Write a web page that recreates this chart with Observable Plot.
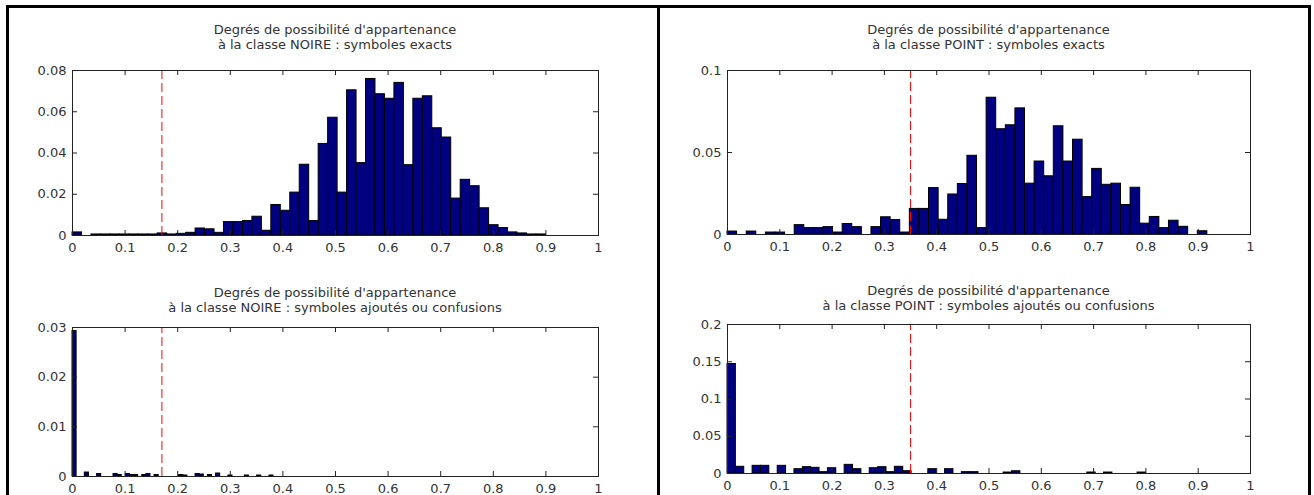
<!DOCTYPE html>
<html>
<head>
<meta charset="utf-8">
<script src="https://cdn.jsdelivr.net/npm/d3@7"></script>
<script src="https://cdn.jsdelivr.net/npm/@observablehq/plot@0.6"></script>
<style>
  html, body { margin: 0; padding: 0; background: #fff; }
  body { width: 1314px; height: 495px; overflow: hidden; position: relative; font-family: "DejaVu Sans", sans-serif; }
  #frame { position: absolute; left: 6px; top: 5px; width: 1299px; height: 600px; border: 3px solid #000; }
  #divider { position: absolute; left: 657px; top: 5px; width: 3px; height: 600px; background: #000; }
  .panel { position: absolute; }
  .title { position: absolute; text-align: center; font-size: 13px; line-height: 15px; color: #333; white-space: pre; }
</style>
</head>
<body>
<div id="frame"></div>
<div id="divider"></div>
<div id="root"></div>
<script>
// ---- Data (histogram bin heights; 50 bins each) ----
const noireExacts = [
  0.0015, 0, 0.0005, 0.0005, 0.0005, 0.0005, 0.0005, 0.0005, 0.0005, 0.001,
  0.0005, 0.0008, 0.0013, 0.0034, 0.003, 0.0013, 0.0065, 0.0065, 0.007, 0.0091,
  0.0023, 0.0148, 0.012, 0.0208, 0.0343, 0.007, 0.0444, 0.0571, 0.0208, 0.0704,
  0.0351, 0.0759, 0.0685, 0.0663, 0.074, 0.0341, 0.0663, 0.0675, 0.052, 0.0475,
  0.0179, 0.027, 0.0239, 0.0132, 0.005, 0.0036, 0.0015, 0.001, 0.0005, 0.0005
];
const pointExacts = [
  0.0018, 0, 0.0018, 0, 0.0012, 0.0012, 0, 0.0057, 0.0039, 0.0039,
  0.0045, 0.0012, 0.0064, 0.0045, 0, 0.0045, 0.0105, 0.0088, 0.0012, 0.0156,
  0.0156, 0.0283, 0.009, 0.0244, 0.0308, 0.048, 0.0039, 0.0834, 0.0642, 0.0666,
  0.0769, 0.031, 0.0445, 0.0355, 0.066, 0.0445, 0.0578, 0.0228, 0.04, 0.0303,
  0.031, 0.018, 0.0285, 0.0066, 0.0107, 0.0039, 0.0084, 0.0047, 0, 0.002
];
const noireAjoutes = [
  0.0293, 0, 0, 0.0008, 0, 0, 0.0005, 0, 0, 0,
  0.0005, 0.0003, 0, 0.0005, 0.0003, 0.0003, 0, 0.0003, 0.0005, 0,
  0.0003, 0, 0, 0, 0, 0, 0.0003, 0.0002, 0, 0,
  0.0005, 0.0004, 0, 0.0003, 0, 0.0006, 0, 0, 0.0002, 0,
  0, 0, 0.0002, 0, 0, 0.0002, 0, 0, 0.0002, 0
];
const pointAjoutes = [
  0.147, 0.009, 0, 0.0103, 0.0103, 0, 0.0103, 0, 0.0058, 0.0085,
  0.0076, 0.0018, 0.0071, 0, 0.0116, 0.0058, 0, 0.0071, 0.0085, 0.0018,
  0.009, 0.0031, 0, 0, 0.0058, 0, 0.0058, 0, 0.0018, 0.0018,
  0, 0, 0, 0.0013, 0.003, 0, 0, 0, 0, 0,
  0, 0, 0, 0.0013, 0, 0.0013, 0, 0, 0, 0.0013
];
// bin widths of each histogram
const binWidths = [0.018, 0.01835, 0.0078, 0.016];
// thresholds (red dashed lines)
const thresholds = [0.17, 0.35, 0.17, 0.35];

// ---- Tick values and labels ----
const xTicks = [0, 0.1, 0.2, 0.3, 0.4, 0.5, 0.6, 0.7, 0.8, 0.9, 1];
const xTickLabels = ["0", "0.1", "0.2", "0.3", "0.4", "0.5", "0.6", "0.7", "0.8", "0.9", "1"];
const yTicksNoireExacts = [0, 0.02, 0.04, 0.06, 0.08];
const yLabelsNoireExacts = ["0", "0.02", "0.04", "0.06", "0.08"];
const yTicksPointExacts = [0, 0.05, 0.1];
const yLabelsPointExacts = ["0", "0.05", "0.1"];
const yTicksNoireAjoutes = [0, 0.01, 0.02, 0.03];
const yLabelsNoireAjoutes = ["0", "0.01", "0.02", "0.03"];
const yTicksPointAjoutes = [0, 0.05, 0.1, 0.15, 0.2];
const yLabelsPointAjoutes = ["0", "0.05", "0.1", "0.15", "0.2"];

// ---- Titles ----
const titleLine1 = "Degrés de possibilité d'appartenance";
const titles = [
  "à la classe NOIRE : symboles exacts",
  "à la classe POINT : symboles exacts",
  "à la classe NOIRE : symboles ajoutés ou confusions",
  "à la classe POINT : symboles ajoutés ou confusions"
];

// ---- Layout of the four panels ----
const panels = [
  {values: noireExacts, w: binWidths[0], thr: thresholds[0], yTicks: yTicksNoireExacts, yLabels: yLabelsNoireExacts, yMax: 0.08,
   left: 0, top: 0, width: 657, height: 262, mt: 70, mb: 27, ml: 72, mr: 59, title: titles[0], titleTop: 22},
  {values: pointExacts, w: binWidths[1], thr: thresholds[1], yTicks: yTicksPointExacts, yLabels: yLabelsPointExacts, yMax: 0.1,
   left: 660, top: 0, width: 654, height: 262, mt: 70, mb: 28, ml: 67, mr: 64, title: titles[1], titleTop: 22},
  {values: noireAjoutes, w: binWidths[2], thr: thresholds[2], yTicks: yTicksNoireAjoutes, yLabels: yLabelsNoireAjoutes, yMax: 0.03,
   left: 0, top: 262, width: 657, height: 233, mt: 65, mb: 19, ml: 72, mr: 59, title: titles[2], titleTop: 285},
  {values: pointAjoutes, w: binWidths[3], thr: thresholds[3], yTicks: yTicksPointAjoutes, yLabels: yLabelsPointAjoutes, yMax: 0.2,
   left: 660, top: 262, width: 654, height: 233, mt: 62, mb: 22, ml: 67, mr: 64, title: titles[3], titleTop: 283}
];

const root = document.getElementById("root");
const xLabelMap = new Map(xTicks.map((t, i) => [t, xTickLabels[i]]));

for (const p of panels) {
  const data = p.values.map((v, i) => ({x1: i * p.w, x2: (i + 1) * p.w, v})).filter(d => d.v > 0);
  const H = p.height - p.mt - p.mb;
  const W = p.width - p.ml - p.mr;
  const yLabelMap = new Map(p.yTicks.map((t, i) => [t, p.yLabels[i]]));
  const ink = "#222";
  const chart = Plot.plot({
    width: p.width,
    height: p.height,
    marginTop: p.mt, marginBottom: p.mb, marginLeft: p.ml, marginRight: p.mr,
    style: {fontFamily: "DejaVu Sans, sans-serif", fontSize: "13px", color: "#333", background: "transparent", overflow: "visible", maxWidth: "none"},
    x: {domain: [0, 1], label: null},
    y: {domain: [0, p.yMax], label: null},
    marks: [
      Plot.rect(data, {x1: "x1", x2: "x2", y1: 0, y2: "v", fill: "#000080", stroke: "#000", strokeWidth: 1}),
      Plot.ruleX([p.thr], {x: d => d, y1: 0, y2: p.yMax, stroke: "#ff0000", strokeWidth: 1, strokeDasharray: "9,4"}),
      Plot.ruleX(xTicks, {x: d => d, insetTop: H - 5, stroke: ink}),
      Plot.ruleX(xTicks, {x: d => d, insetBottom: H - 5, stroke: ink}),
      Plot.ruleY(p.yTicks, {y: d => d, insetRight: W - 5, stroke: ink}),
      Plot.ruleY(p.yTicks, {y: d => d, insetLeft: W - 5, stroke: ink}),
      Plot.frame({stroke: ink}),
      Plot.axisX(xTicks, {tickSize: 0, tickPadding: 7, tickFormat: d => xLabelMap.get(d), fill: "#333"}),
      Plot.axisY(p.yTicks, {tickSize: 0, tickPadding: 6, tickFormat: d => yLabelMap.get(d), fill: "#333"})
    ]
  });
  const div = document.createElement("div");
  div.className = "panel";
  div.style.left = p.left + "px";
  div.style.top = p.top + "px";
  div.appendChild(chart);
  root.appendChild(div);

  const t = document.createElement("div");
  t.className = "title";
  t.style.left = (p.left + p.ml) + "px";
  t.style.width = W + "px";
  t.style.top = p.titleTop + "px";
  t.textContent = titleLine1 + "\n" + p.title;
  root.appendChild(t);
}
</script>
</body>
</html>
